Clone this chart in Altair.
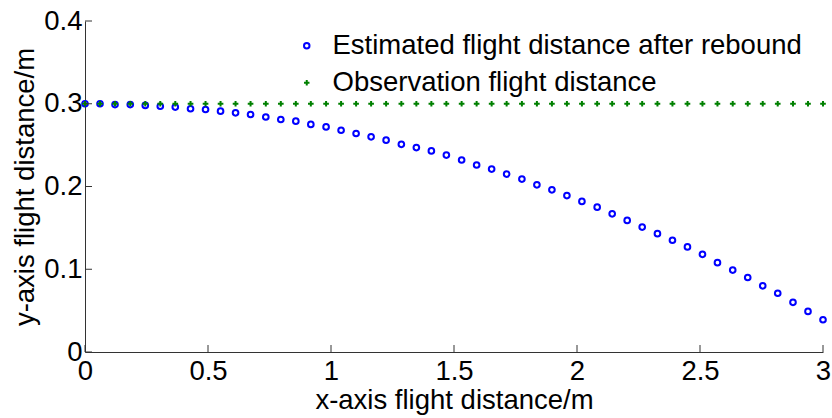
import altair as alt
import pandas as pd

# ---- data ----
x_vals = [0.000, 0.061, 0.122, 0.184, 0.245, 0.306, 0.367, 0.429, 0.490, 0.551,
          0.612, 0.673, 0.735, 0.796, 0.857, 0.918, 0.980, 1.041, 1.102, 1.163,
          1.224, 1.286, 1.347, 1.408, 1.469, 1.531, 1.592, 1.653, 1.714, 1.776,
          1.837, 1.898, 1.959, 2.020, 2.082, 2.143, 2.204, 2.265, 2.327, 2.388,
          2.449, 2.510, 2.571, 2.633, 2.694, 2.755, 2.816, 2.878, 2.939, 3.000]

estimated_vals = [0.300, 0.300, 0.299, 0.299, 0.298, 0.297, 0.296, 0.294, 0.293, 0.291,
                  0.289, 0.287, 0.284, 0.281, 0.279, 0.275, 0.272, 0.268, 0.264, 0.260,
                  0.256, 0.251, 0.247, 0.243, 0.238, 0.232, 0.226, 0.221, 0.215, 0.209,
                  0.202, 0.196, 0.189, 0.182, 0.175, 0.167, 0.159, 0.151, 0.143, 0.135,
                  0.127, 0.118, 0.108, 0.099, 0.090, 0.080, 0.071, 0.060, 0.049, 0.039]

observed_vals = [0.3, 0.3, 0.3, 0.3, 0.3, 0.3, 0.3, 0.3, 0.3, 0.3,
                 0.3, 0.3, 0.3, 0.3, 0.3, 0.3, 0.3, 0.3, 0.3, 0.3,
                 0.3, 0.3, 0.3, 0.3, 0.3, 0.3, 0.3, 0.3, 0.3, 0.3,
                 0.3, 0.3, 0.3, 0.3, 0.3, 0.3, 0.3, 0.3, 0.3, 0.3,
                 0.3, 0.3, 0.3, 0.3, 0.3, 0.3, 0.3, 0.3, 0.3, 0.3]

series_names = ["Estimated flight distance after rebound", "Observation flight distance"]
series_colors = ["#0000ff", "#008000"]
x_ticks = [0, 0.5, 1, 1.5, 2, 2.5, 3]
y_ticks = [0, 0.1, 0.2, 0.3, 0.4]

rows = [{"x": x, "y": y, "series": series_names[0]} for x, y in zip(x_vals, estimated_vals)]
rows += [{"x": x, "y": y, "series": series_names[1]} for x, y in zip(x_vals, observed_vals)]
df = pd.DataFrame(rows)
xtick_df = pd.DataFrame({"x": x_ticks})
ytick_df = pd.DataFrame({"y": y_ticks})

FONT = "Liberation Sans"
FS = 27.5
AXIS_COLOR = "#333333"
PLOT_W, PLOT_H = 738, 331
TICK_LEN = 7
plus_path = "M-1,0L1,0M0,-1L0,1"

legend = alt.Legend(
    orient="none", legendX=208, legendY=11, title=None,
    labelFont=FONT, labelFontSize=FS, labelColor="black", labelLimit=700,
    symbolSize=30, symbolStrokeWidth=2, labelOffset=12, rowPadding=8, padding=0,
)

x_enc = alt.X("x:Q", scale=alt.Scale(domain=[0, 3], nice=False, zero=False),
              axis=alt.Axis(values=x_ticks, format="~g", title="x-axis flight distance/m",
                            labelFlush=False, labelPadding=5, ticks=False, tickSize=0,
                            titleY=56, titleBaseline="alphabetic"))
y_enc = alt.Y("y:Q", scale=alt.Scale(domain=[0, 0.4], nice=False),
              axis=alt.Axis(values=y_ticks, format="~g", title="y-axis flight distance/m",
                            labelPadding=3, ticks=False, tickSize=0,
                            titleX=-52, titleBaseline="alphabetic", titleAngle=-90))

points = alt.Chart(df).mark_point(filled=False, size=32, strokeWidth=2, opacity=1).encode(
    x=x_enc,
    y=y_enc,
    color=alt.Color("series:N", scale=alt.Scale(domain=series_names, range=series_colors), legend=legend),
    shape=alt.Shape("series:N", scale=alt.Scale(domain=series_names, range=["circle", plus_path]), legend=legend),
)

xticks_layer = alt.Chart(xtick_df).mark_rule(color=AXIS_COLOR, strokeWidth=1).encode(
    x="x:Q",
    y=alt.value(PLOT_H),
    y2=alt.value(PLOT_H - TICK_LEN),
)

yticks_layer = alt.Chart(ytick_df).mark_rule(color=AXIS_COLOR, strokeWidth=1).encode(
    y="y:Q",
    x=alt.value(0),
    x2=alt.value(TICK_LEN),
)

chart = alt.layer(points, xticks_layer, yticks_layer).properties(
    width=PLOT_W, height=PLOT_H,
    autosize=alt.AutoSizeParams(type="none"),
    padding={"left": 85, "top": 21, "right": 9, "bottom": 66},
).configure(
    font=FONT,
    background="white",
).configure_view(
    stroke=None,
).configure_axis(
    grid=False,
    domainColor=AXIS_COLOR, domainWidth=1,
    labelFont=FONT, labelFontSize=FS, labelColor="black",
    titleFont=FONT, titleFontSize=FS, titleFontWeight="normal", titleColor="black",
    labelOverlap=False,
)

chart.save("out.html", embed_options={"renderer": "svg", "actions": False})
